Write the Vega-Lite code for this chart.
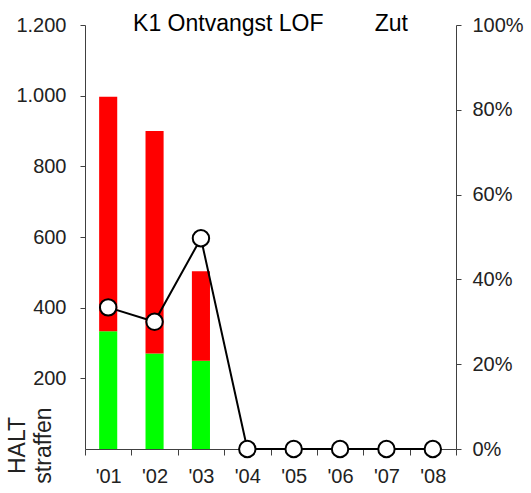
{
  "$schema": "https://vega.github.io/schema/vega-lite/v6.json",
  "width": 371,
  "height": 424,
  "autosize": "none",
  "padding": {"left": 85, "top": 25, "right": 75, "bottom": 44},
  "background": "white",
  "title": {
    "text": "K1 Ontvangst LOF\u00a0\u00a0\u00a0\u00a0\u00a0\u00a0\u00a0\u00a0Zut",
    "font": "Liberation Sans",
    "fontSize": 23,
    "fontWeight": "normal",
    "color": "#000000",
    "anchor": "middle",
    "frame": "group",
    "baseline": "alphabetic",
    "offset": -39
  },
  "datasets": {
    "bars": [
      {"jaar": "'01", "soort": "groen", "aantal": 333, "volg": 1},
      {"jaar": "'01", "soort": "rood", "aantal": 664, "volg": 2},
      {"jaar": "'02", "soort": "groen", "aantal": 270, "volg": 1},
      {"jaar": "'02", "soort": "rood", "aantal": 630, "volg": 2},
      {"jaar": "'03", "soort": "groen", "aantal": 250, "volg": 1},
      {"jaar": "'03", "soort": "rood", "aantal": 253, "volg": 2}
    ],
    "lijn": [
      {"jaar": "'01", "pct": 0.334},
      {"jaar": "'02", "pct": 0.30},
      {"jaar": "'03", "pct": 0.497},
      {"jaar": "'04", "pct": 0},
      {"jaar": "'05", "pct": 0},
      {"jaar": "'06", "pct": 0},
      {"jaar": "'07", "pct": 0},
      {"jaar": "'08", "pct": 0}
    ]
  },
  "encoding": {
    "x": {
      "field": "jaar",
      "type": "nominal",
      "sort": ["'01", "'02", "'03", "'04", "'05", "'06", "'07", "'08"],
      "scale": {"domain": ["'01", "'02", "'03", "'04", "'05", "'06", "'07", "'08"], "paddingInner": 0, "paddingOuter": 0},
      "axis": {
        "title": null,
        "labelAngle": 0,
        "tickBand": "extent",
        "tickSize": 6,
        "labelPadding": 11,
        "labelFontSize": 20,
        "labelFont": "Liberation Sans",
        "labelColor": "#222222",
        "domainColor": "#404040",
        "tickColor": "#404040",
        "grid": false
      }
    }
  },
  "layer": [
    {
      "data": {"name": "bars"},
      "mark": {"type": "bar", "width": {"band": 0.39}},
      "encoding": {
        "y": {
          "field": "aantal",
          "type": "quantitative",
          "stack": "zero",
          "scale": {"domain": [0, 1200], "nice": false},
          "axis": {
            "orient": "left",
            "values": [200, 400, 600, 800, 1000, 1200],
            "labelExpr": "replace(format(datum.value, ','), ',', '.')",
            "labelFontSize": 20,
            "labelFont": "Liberation Sans",
            "labelColor": "#222222",
            "labelPadding": 14,
            "tickSize": 5,
            "domainColor": "#404040",
            "tickColor": "#404040",
            "grid": false,
            "title": ["HALT", "straffen"],
            "titleFont": "Liberation Sans",
            "titleFontSize": 23,
            "titleFontWeight": "normal",
            "titleColor": "#222222",
            "titleAngle": 270,
            "titleAlign": "center",
            "titleBaseline": "top",
            "titleLineHeight": 26,
            "titleX": -79,
            "titleY": 420
          }
        },
        "color": {
          "field": "soort",
          "type": "nominal",
          "scale": {"domain": ["groen", "rood"], "range": ["#00FF00", "#FF0000"]},
          "legend": null
        },
        "order": {"field": "volg", "type": "quantitative"}
      }
    },
    {
      "data": {"name": "lijn"},
      "encoding": {
        "y": {
          "field": "pct",
          "type": "quantitative",
          "scale": {"domain": [0, 1], "nice": false},
          "axis": {
            "orient": "right",
            "values": [0, 0.2, 0.4, 0.6, 0.8, 1],
            "format": ".0%",
            "labelFontSize": 20,
            "labelFont": "Liberation Sans",
            "labelColor": "#222222",
            "labelPadding": 11,
            "tickSize": 5,
            "domainColor": "#404040",
            "tickColor": "#404040",
            "grid": false,
            "title": null
          }
        }
      },
      "layer": [
        {"mark": {"type": "line", "color": "#000000", "strokeWidth": 2}},
        {"mark": {"type": "point", "shape": "circle", "filled": true, "fill": "#FFFFFF", "stroke": "#000000", "strokeWidth": 2, "size": 270, "opacity": 1}}
      ]
    }
  ],
  "resolve": {"scale": {"y": "independent"}},
  "config": {"view": {"stroke": null}}
}
